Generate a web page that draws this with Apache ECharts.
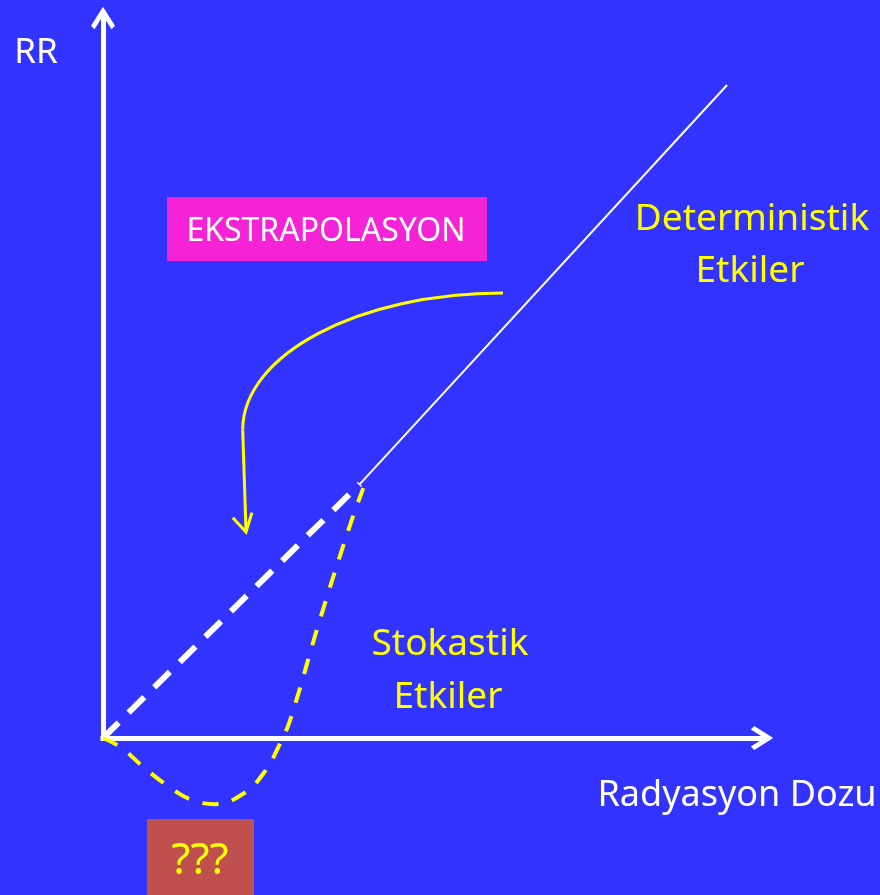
<!DOCTYPE html>
<html>
<head>
<meta charset="utf-8">
<script src="https://cdn.jsdelivr.net/npm/echarts@6/dist/echarts.min.js"></script>
<style>
  html, body { margin: 0; padding: 0; background: #3333ff; }
  #chart { width: 880px; height: 895px; }
</style>
</head>
<body>
<div id="chart"></div>
<script>
// dose (x) and relative risk (y) in arbitrary units 0..100
const linearHigh = [[39.0, 35.3], [94.7, 90.7]];          // deterministik, thin solid
const linearLow = [[0, 0], [39.0, 35.3]];                  // extrapolated, thick dashed
const stochastic = [
    [0, 0], [2.7, -1.3], [6.1, -4.0], [9.6, -6.5], [13.2, -8.5], [17.0, -9.2],
    [21.5, -7.6], [24.6, -4.6], [26.7, -1.1], [28.4, 2.5], [32.9, 16.4],
    [37.5, 29.6], [39.5, 34.7]
];
// curved arrow: bezier start, two control points, bend, then straight to the tip
const arrowBezier = [[60.7, 61.8], [38.9, 61.8], [21.2, 53.3], [21.2, 42.8]];
const arrowTail = [[21.2, 42.8], [21.7, 28.8]];
const arrowHead = [[19.7, 30.6], [21.7, 28.6], [22.6, 31.3]];

const yLabel = 'RR';
const xLabel = 'Radyasyon Dozu';
const boxLabel = 'EKSTRAPOLASYON';
const detLabel = ['Deterministik', 'Etkiler'];
const stoLabel = ['Stokastik', 'Etkiler'];
const qLabel = '???';

const WHITE = '#ffffff';
const YELLOW = '#ffff00';
const FONT = '"Noto Sans", "Open Sans", sans-serif';
const chevron = 'path://M12,0 L24,19 L20.5,22.5 L12,9 L3.5,22.5 L0,19 Z';

var chart = echarts.init(document.getElementById('chart'));

function txt(text, x, y, size, color) {
    return {
        type: 'text',
        z: 20,
        style: {
            text: text, x: x, y: y,
            fill: color,
            font: size + 'px ' + FONT,
            textAlign: 'center',
            textVerticalAlign: 'middle'
        }
    };
}

function axisCfg() {
    return {
        type: 'value',
        min: 0,
        max: 100,
        axisLine: {
            show: true,
            symbol: ['none', chevron],
            symbolSize: [24, 24],
            lineStyle: { color: WHITE, width: 5, cap: 'square' }
        },
        axisTick: { show: false },
        axisLabel: { show: false },
        splitLine: { show: false }
    };
}

function renderArrow(params, api) {
    var b = arrowBezier.map(function (p) { return api.coord(p); });
    var t = arrowTail.map(function (p) { return api.coord(p); });
    var h = arrowHead.map(function (p) { return api.coord(p); });
    var st = { stroke: YELLOW, lineWidth: 3, fill: 'none' };
    return {
        type: 'group',
        children: [
            {
                type: 'bezierCurve',
                shape: {
                    x1: b[0][0], y1: b[0][1],
                    cpx1: b[1][0], cpy1: b[1][1],
                    cpx2: b[2][0], cpy2: b[2][1],
                    x2: b[3][0], y2: b[3][1]
                },
                style: st
            },
            { type: 'polyline', shape: { points: t }, style: st },
            { type: 'polyline', shape: { points: h }, style: st }
        ]
    };
}

var option = {
    backgroundColor: '#3333ff',
    animation: false,
    grid: { left: 103, top: 18, right: 118, bottom: 157 },
    xAxis: axisCfg(),
    yAxis: axisCfg(),
    graphic: [
        { type: 'rect', z: 10, shape: { x: 167, y: 197, width: 320, height: 64 }, style: { fill: '#f523d6' } },
        { type: 'rect', z: 10, shape: { x: 147, y: 819, width: 107, height: 76 }, style: { fill: '#c0504d' } },
        txt(yLabel, 36, 53, 35, WHITE),
        txt(boxLabel, 326, 232, 32, WHITE),
        txt(detLabel[0], 752, 219, 37, YELLOW),
        txt(detLabel[1], 750, 271, 37, YELLOW),
        txt(stoLabel[0], 450, 644, 37, YELLOW),
        txt(stoLabel[1], 448, 697, 37, YELLOW),
        txt(xLabel, 737, 796, 36, WHITE),
        txt(qLabel, 200, 861, 44, YELLOW)
    ],
    series: [
        {
            type: 'line', data: linearHigh, symbol: 'none', clip: false,
            lineStyle: { color: WHITE, width: 2 }
        },
        {
            type: 'line', data: linearLow, symbol: 'none', clip: false,
            lineStyle: { color: WHITE, width: 6, type: [22, 14] }
        },
        {
            type: 'line', data: stochastic, symbol: 'none', clip: false, smooth: 0.4,
            lineStyle: { color: YELLOW, width: 4, type: [16, 14] }
        },
        {
            type: 'custom', coordinateSystem: 'cartesian2d', clip: false,
            data: [arrowBezier[0]],
            renderItem: renderArrow
        }
    ]
};
chart.setOption(option);
</script>
</body>
</html>
